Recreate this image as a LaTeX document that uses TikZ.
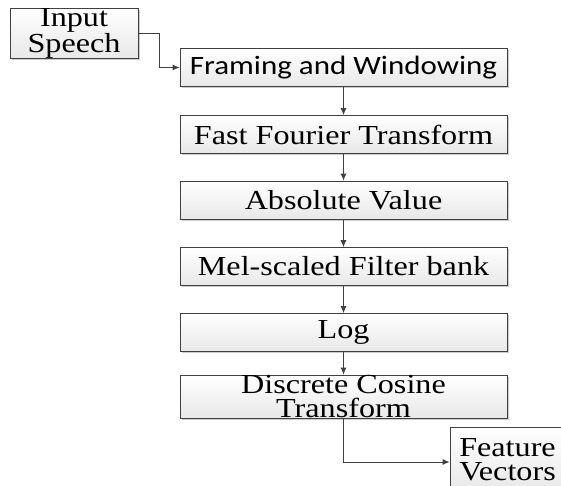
\documentclass[tikz,border=0pt]{standalone}
\usepackage{fontspec}
\setmainfont{Liberation Serif}
\newfontfamily\calib{Carlito}
\usetikzlibrary{shadows,arrows.meta}
\newcommand\sx[1]{\scalebox{1.17}[1]{#1}}
\begin{document}
\begin{tikzpicture}[x=1pt,y=-1pt,
  box/.style={draw=black!75, line width=0.8pt, top color=white, bottom color=black!9,
    drop shadow={shadow xshift=1.5pt, shadow yshift=-1.5pt, fill=black!40, opacity=0.5},
    minimum width=327pt, minimum height=38pt, inner sep=0pt, align=center,
    font=\fontsize{27.5}{24}\selectfont},
  link/.style={draw=black!75, line width=0.8pt, -{Latex[length=7pt,width=6pt]}}]
\useasboundingbox (0,0) rectangle (561,485);
\clip (0,0) rectangle (561,485);
\node[box, minimum width=128pt, minimum height=44pt] (inp) at (74,33.5) {\sx{Input}\\\sx{Speech}};
\node[box, font=\calib\fontsize{26.5}{24}\selectfont] (frame) at (343.5,67.5) {\sx{Framing and Windowing}};
\node[box] (fft) at (343.5,134.5) {\sx{Fast Fourier Transform}};
\node[box] (abs) at (343.5,200) {\sx{Absolute Value}};
\node[box] (mel) at (343.5,266.5) {\sx{Mel-scaled Filter bank}};
\node[box] (log) at (343.5,332.5) {\sx{Log}};
\node[box, minimum height=43pt, font=\fontsize{27.5}{24.5}\selectfont] (dct) at (343.5,396.5) {\sx{Discrete Cosine}\\\sx{Transform}};
\node[box, minimum width=115pt, minimum height=65pt] (feat) at (507.5,459.5) {\sx{Feature}\\\sx{Vectors}};
\draw[link] (inp.east) -- ++(21,0) |- (frame.west);
\draw[link] (frame) -- (fft);
\draw[link] (fft) -- (abs);
\draw[link] (abs) -- (mel);
\draw[link] (mel) -- (log);
\draw[link] (log) -- (dct);
\draw[link] (dct.south) |- ([yshift=-2.5pt]feat.west);
\end{tikzpicture}
\end{document}
